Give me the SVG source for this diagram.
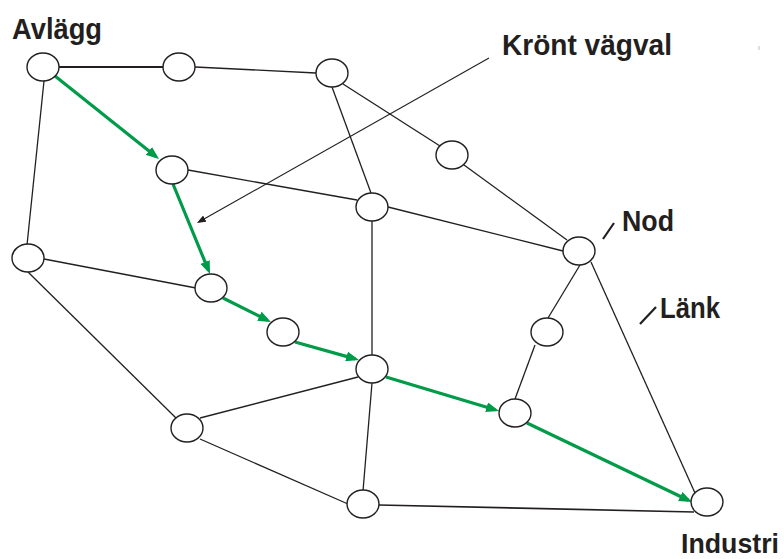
<svg xmlns="http://www.w3.org/2000/svg" width="784" height="559" viewBox="0 0 784 559">
<style>
.e{stroke:#231f20;stroke-width:1.3;fill:none}
.g{stroke:#009b48;stroke-width:3.2;fill:none;marker-end:url(#ga)}
.n{fill:#fff;stroke:#231f20;stroke-width:1.4}
.t{font-family:"Liberation Sans",Arial,sans-serif;font-weight:bold;font-size:29px;fill:#231f20}
.tick{stroke:#231f20;stroke-width:2.2}
</style>
<defs>
<marker id="ga" markerUnits="userSpaceOnUse" markerWidth="14" markerHeight="10" refX="9" refY="5" orient="auto">
<path d="M0,0 L13,5 L0,10 z" fill="#009b48"/>
</marker>
<marker id="ba" markerUnits="userSpaceOnUse" markerWidth="10" markerHeight="8" refX="7" refY="3.5" orient="auto">
<path d="M0,0 L9,3.5 L0,7 z" fill="#231f20"/>
</marker>
</defs>
<rect width="784" height="559" fill="#fff"/>
<g id="connectors">
<line class="e" x1="59" y1="67" x2="163" y2="67" style="stroke-width:2"/>
<line class="e" x1="195" y1="67" x2="316" y2="73"/>
<line class="e" x1="343" y1="84" x2="440" y2="146"/>
<line class="e" x1="332" y1="87" x2="371" y2="193"/>
<line class="e" x1="464" y1="165" x2="567" y2="240"/>
<line class="e" x1="188" y1="170" x2="357" y2="200"/>
<line class="e" x1="388" y1="207" x2="563" y2="251"/>
<line class="e" x1="372" y1="221" x2="372" y2="355"/>
<line class="e" x1="44" y1="81" x2="27" y2="245"/>
<line class="e" x1="44" y1="259" x2="196" y2="288"/>
<line class="e" x1="28" y1="272" x2="176" y2="418"/>
<line class="e" x1="200" y1="418" x2="358" y2="377"/>
<line class="e" x1="200" y1="439" x2="348" y2="504"/>
<line class="e" x1="372" y1="383" x2="363" y2="491"/>
<line class="e" x1="379" y1="505" x2="694" y2="512" style="stroke-width:1.7"/>
<line class="e" x1="580" y1="265" x2="548" y2="318"/>
<line class="e" x1="535" y1="345" x2="515" y2="399"/>
<line class="e" x1="591" y1="262" x2="695" y2="493"/>
<line class="g" x1="55" y1="76" x2="155.9" y2="156.5"/>
<line class="g" x1="173" y1="184" x2="208.5" y2="270.3"/>
<line class="g" x1="223" y1="298" x2="267.4" y2="320.2"/>
<line class="g" x1="295" y1="342" x2="355.2" y2="358.9"/>
<line class="g" x1="386" y1="377" x2="495.2" y2="409.8"/>
<line class="g" x1="527" y1="423" x2="688.4" y2="500.3"/>
<line x1="489" y1="58" x2="198.7" y2="222" stroke="#231f20" stroke-width="1.1" marker-end="url(#ba)"/>
<line class="tick" x1="614" y1="223" x2="603" y2="239"/>
<line class="tick" x1="656" y1="307" x2="640" y2="324"/>
</g>
<g id="nodeA"><ellipse class="n" cx="43" cy="67" rx="16" ry="14"/></g>
<g id="nodeB"><ellipse class="n" cx="179" cy="67" rx="16" ry="14"/></g>
<g id="nodeC"><ellipse class="n" cx="332" cy="73" rx="16" ry="14"/></g>
<g id="nodeD"><ellipse class="n" cx="452" cy="155" rx="16" ry="14"/></g>
<g id="nodeE"><ellipse class="n" cx="172" cy="170" rx="16" ry="14"/></g>
<g id="nodeF"><ellipse class="n" cx="372" cy="207" rx="16" ry="14"/></g>
<g id="nodeG"><ellipse class="n" cx="579" cy="251" rx="16" ry="14"/></g>
<g id="nodeH"><ellipse class="n" cx="28" cy="258" rx="16" ry="14"/></g>
<g id="nodeI"><ellipse class="n" cx="211" cy="288" rx="16" ry="14"/></g>
<g id="nodeJ"><ellipse class="n" cx="283" cy="332" rx="16" ry="14"/></g>
<g id="nodeK"><ellipse class="n" cx="547" cy="332" rx="16" ry="14"/></g>
<g id="nodeL"><ellipse class="n" cx="372" cy="369" rx="16" ry="14"/></g>
<g id="nodeM"><ellipse class="n" cx="515" cy="413" rx="16" ry="14"/></g>
<g id="nodeN"><ellipse class="n" cx="187" cy="428" rx="16" ry="14"/></g>
<g id="nodeO"><ellipse class="n" cx="363" cy="504" rx="16" ry="14"/></g>
<g id="nodeP"><ellipse class="n" cx="707" cy="502" rx="16" ry="14"/></g>
<g id="labels">
<text class="t" x="12" y="39" textLength="90" lengthAdjust="spacingAndGlyphs">Avlägg</text>
<text class="t" x="502" y="55" textLength="170" lengthAdjust="spacingAndGlyphs">Krönt vägval</text>
<text class="t" x="622" y="231" textLength="52" lengthAdjust="spacingAndGlyphs">Nod</text>
<text class="t" x="660" y="318" textLength="60" lengthAdjust="spacingAndGlyphs">Länk</text>
<text class="t" x="681" y="553" textLength="98" lengthAdjust="spacingAndGlyphs" style="font-size:28px">Industri</text>
<line x1="759" y1="46" x2="759" y2="50" stroke="#bbb" stroke-width="1"/>
</g>
</svg>
